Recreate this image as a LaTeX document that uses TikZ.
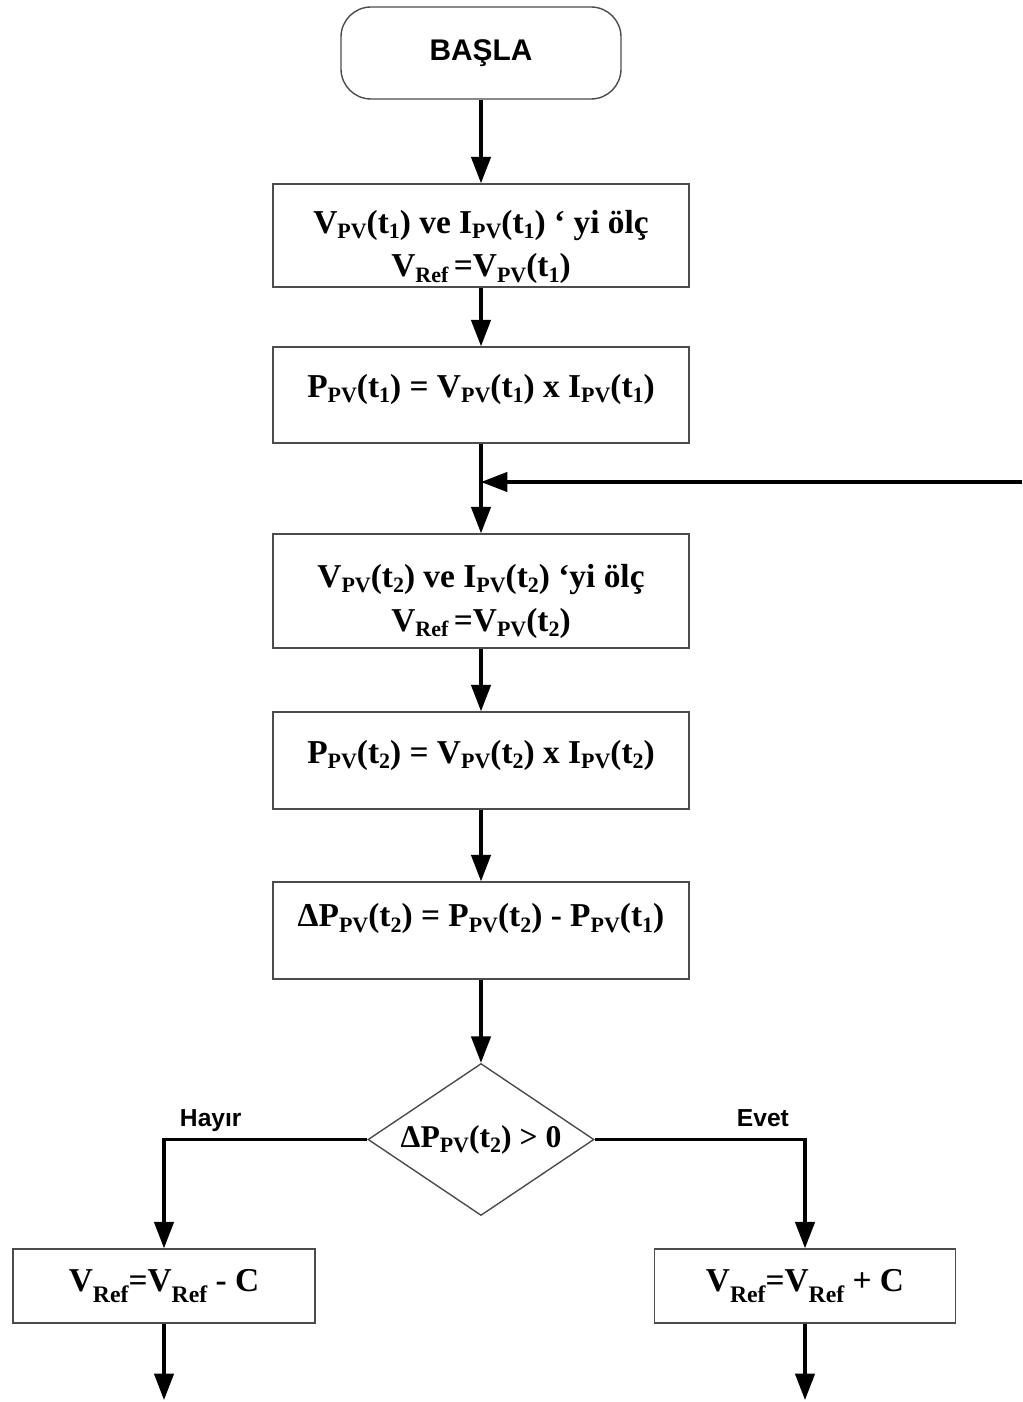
\documentclass[tikz,border=0pt]{standalone}
\usepackage{fontspec}
\setmainfont{Liberation Serif}
\newfontfamily\headfont{Liberation Sans}
\usepackage{tikz}
\usetikzlibrary{shapes, arrows.meta, positioning}
\newcommand{\sub}[1]{\raisebox{-0.35ex}{\fontsize{12.5}{12.5}\selectfont #1}}
\newcommand{\lsub}[1]{\raisebox{-0.75ex}{\fontsize{13.5}{13.5}\selectfont #1}}

\begin{document}
\begin{tikzpicture}[>={Triangle[length=15pt,width=11pt]}, on grid, auto,
        box/.style={draw=black!70, line width=0.8pt, minimum width=8.32cm, align=center,
                    font=\bfseries\fontsize{19}{25}\selectfont},
        flow/.style={->, line width=1.9pt},
        answer/.style={font=\headfont\bfseries\fontsize{14}{16}\selectfont, text depth=0.1cm}]
    \useasboundingbox (0,0) rectangle (20.44,-28.04);
                \node[draw=black!70, line width=0.8pt, rounded corners=0.6cm, minimum width=5.6cm,
                      minimum height=1.84cm, font=\headfont\bfseries\fontsize{17}{20}\selectfont]
                      (start) at (9.62,-1.06) {BAŞLA};
                \node[box, minimum height=2.06cm, inner ysep=0pt, text height=1.85cm, text depth=0.19cm] (m1) [below=3.65cm of start]
                      {V\sub{PV}(t\sub{1}) ve I\sub{PV}(t\sub{1}) ‘ yi ölç\\ V\sub{Ref}\,=V\sub{PV}(t\sub{1})};
                \node[box, minimum height=1.92cm, text height=0.45cm, text depth=0.35cm] (p1) [below=3.19cm of m1]
                      {P\sub{PV}(t\sub{1}) = V\sub{PV}(t\sub{1}) x I\sub{PV}(t\sub{1})};
                \node[box, minimum height=2.28cm, inner ysep=0pt, text height=1.85cm, text depth=0.25cm] (m2) [below=3.92cm of p1]
                      {V\sub{PV}(t\sub{2}) ve I\sub{PV}(t\sub{2}) ‘yi ölç\\ V\sub{Ref}\,=V\sub{PV}(t\sub{2})};
                \node[box, minimum height=1.94cm, text height=0.45cm, text depth=0.35cm] (p2) [below=3.39cm of m2]
                      {P\sub{PV}(t\sub{2}) = V\sub{PV}(t\sub{2}) x I\sub{PV}(t\sub{2})};
                \node[box, minimum height=1.94cm, text height=0.45cm, text depth=0.6cm] (dp) [below=3.40cm of p2]
                      {ΔP\sub{PV}(t\sub{2}) = P\sub{PV}(t\sub{2}) - P\sub{PV}(t\sub{1})};
                \node[diamond, draw=black!70, line width=0.8pt, aspect=1.49, inner sep=0pt,
                      minimum width=4.52cm, minimum height=3.04cm, font=\bfseries\fontsize{18}{22}\selectfont]
                      (dia) [below=4.18cm of dp] {ΔP\sub{PV}(t\sub{2}) > 0};
                \node[box, minimum width=6.04cm, minimum height=1.48cm] (dec) [below left=2.93cm and 6.34cm of dia]
                      {V\lsub{Ref}=V\lsub{Ref} - C};
                \node[box, minimum width=6.02cm, minimum height=1.48cm] (inc) [below right=2.93cm and 6.48cm of dia]
                      {V\lsub{Ref}=V\lsub{Ref} + C};
                \coordinate (back) at (20.44,-9.64);
                \coordinate[below=2.28cm of dec] (decend);
                \coordinate[below=2.28cm of inc] (incend);
                \path[flow]
                (start) edge (m1)
                (m1) edge (p1)
                (p1) edge (m2)
                (m2) edge (p2)
                (p2) edge (dp)
                (dp) edge (dia)
                (dec) edge (decend)
                (inc) edge (incend);
                \draw[flow] (back) -- (back -| p1.south);
                \draw[flow] (dia.west) -| node[answer, above, pos=0.385] {Hayır} (dec.north);
                \draw[flow] (dia.east) -| node[answer, above, pos=0.40] {Evet} (inc.north);
            \end{tikzpicture}
\end{document}
